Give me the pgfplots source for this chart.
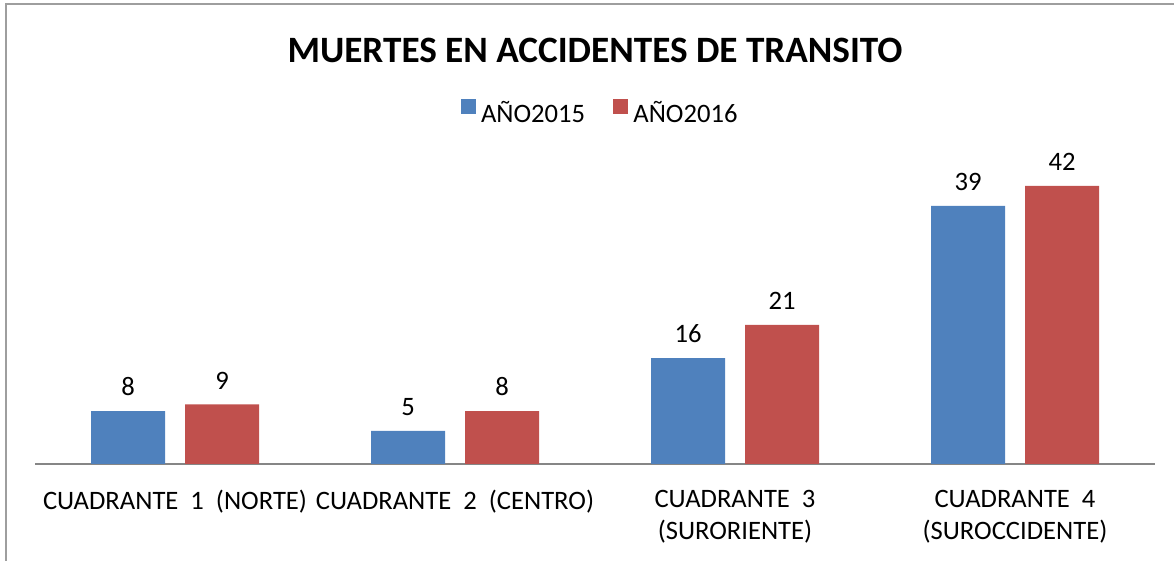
\documentclass[border=0pt]{standalone}
\usepackage{fontspec}
\setmainfont{Carlito}
\usepackage{pgfplots}
\pgfplotsset{compat=1.18}
\definecolor{blueA}{HTML}{4F81BD}
\definecolor{redA}{HTML}{C0504D}
\definecolor{axgray}{HTML}{868686}
\begin{document}
\begin{tikzpicture}
\path[use as bounding box] (0,0) rectangle (587pt,280.5pt);
\draw[axgray!80, line width=1pt] (2.75pt,0) -- (2.75pt,278.5pt) -- (587pt,278.5pt);
\node[font=\fontsize{18.6}{22}\selectfont\bfseries, anchor=base, inner sep=0pt] at (297.5pt,249pt) {MUERTES EN ACCIDENTES DE TRANSITO};
\begin{axis}[
  at={(17.5pt,48.5pt)}, anchor=south west,
  scale only axis, width=560pt, height=165.5pt,
  ymin=0, ymax=50, xmin=-0.5, xmax=3.5,
  ybar=10pt, bar width=37pt,
  axis x line*=bottom, axis y line=none,
  x axis line style={axgray, line width=1pt, -},
  xtick={0,1,2,3}, major tick length=0pt, xtick style={draw=none},
  xticklabels={{CUADRANTE~~1~~(NORTE)},{CUADRANTE~~2~~(CENTRO)},{CUADRANTE~~3\\(SURORIENTE)},{CUADRANTE~~4\\(SUROCCIDENTE)}},
  xticklabel style={align=center, font=\fontsize{13.3}{16}\selectfont, yshift=-9.5pt},
  /pgf/number format/assume math mode=true,
  nodes near coords,
  nodes near coords style={font=\fontsize{13.3}{15}\selectfont, black, yshift=4pt},
  legend columns=2,
  legend style={at={(0.5055,1.06)}, anchor=center, draw=none, fill=none,
    font=\fontsize{13.3}{15}\selectfont,
    /tikz/every odd column/.append style={column sep=0.6pt},
    /tikz/every even column/.append style={column sep=12pt}},
  legend image code/.code={\fill[#1] (0pt,-0.3pt) rectangle (7.5pt,7.2pt);},
]
\addplot[fill=blueA, draw=none] coordinates {(0,8) (1,5) (2,16) (3,39)};
\addplot[fill=redA, draw=none] coordinates {(0,9) (1,8) (2,21) (3,42)};
\legend{AÑO2015, AÑO2016}
\end{axis}
\end{tikzpicture}
\end{document}
